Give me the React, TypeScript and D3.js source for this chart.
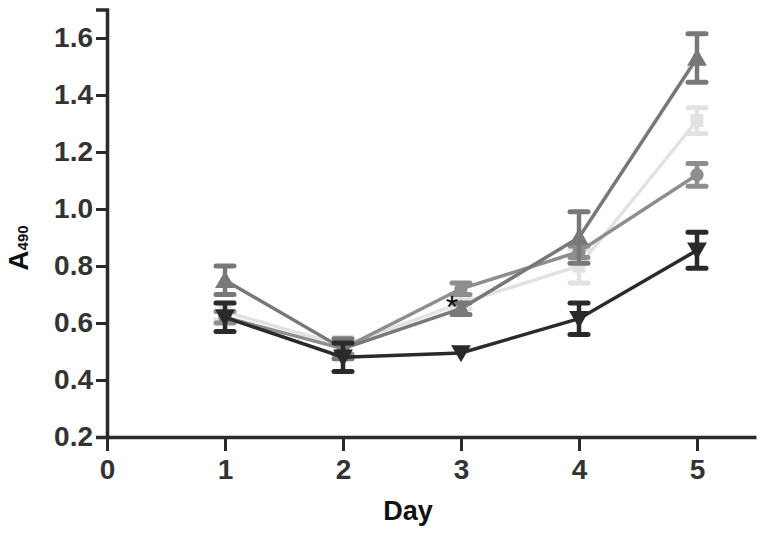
import React, { useEffect, useRef } from 'react';
import * as d3 from 'd3';

const days = [1, 2, 3, 4, 5];
const yTicks = [0.2, 0.4, 0.6, 0.8, 1.0, 1.2, 1.4, 1.6];
const xTicks = [0, 1, 2, 3, 4, 5];

// mean and sem per day
const lightMean = [0.64, 0.52, 0.67, 0.80, 1.31];
const lightErr = [0.03, 0.03, 0.02, 0.06, 0.045];
const circleMean = [0.62, 0.51, 0.72, 0.85, 1.12];
const circleErr = [0.02, 0.02, 0.02, 0.02, 0.04];
const triMean = [0.75, 0.51, 0.65, 0.90, 1.53];
const triErr = [0.05, 0.035, 0.02, 0.09, 0.085];
const darkMean = [0.62, 0.48, 0.495, 0.615, 0.855];
const darkErr = [0.05, 0.05, 0, 0.055, 0.063];

const series = [
  { name: 'light', mean: lightMean, err: lightErr, color: '#e2e2e2', symbol: d3.symbolSquare, rot: 0 },
  { name: 'circle', mean: circleMean, err: circleErr, color: '#8e8e8e', symbol: d3.symbolCircle, rot: 0 },
  { name: 'tri', mean: triMean, err: triErr, color: '#787878', symbol: d3.symbolTriangle, rot: 0 },
  { name: 'dark', mean: darkMean, err: darkErr, color: '#2a2a2a', symbol: d3.symbolTriangle, rot: 180 },
];

export default function App() {
  const svgRef = useRef(null);
  const width = 766, height = 537;

  useEffect(() => {
    const svg = d3.select(svgRef.current);
    svg.selectAll('*').remove();

    const x = d3.scaleLinear().domain([0, 5.5]).range([107, 756]);
    const y = d3.scaleLinear().domain([0.2, 1.7]).range([437, 9.5]);
    const axisColor = '#2a2a2a';
    const font = '"Liberation Sans", Arial, sans-serif';

    // y axis
    const ya = svg.append('g').attr('transform', 'translate(107,0)')
      .call(d3.axisLeft(y).tickValues(yTicks).tickFormat(d3.format('.1f')).tickSize(11).tickPadding(3));
    ya.select('.domain').attr('stroke', axisColor).attr('stroke-width', 3.5);
    ya.selectAll('.tick line').attr('stroke', axisColor).attr('stroke-width', 3);
    ya.selectAll('.tick text').attr('fill', '#333').attr('font-family', font)
      .attr('font-weight', 'bold').attr('font-size', 28);

    // x axis
    const xa = svg.append('g').attr('transform', 'translate(0,437)')
      .call(d3.axisBottom(x).tickValues(xTicks).tickFormat(d3.format('d')).tickSize(14).tickPadding(8).tickSizeOuter(0));
    xa.select('.domain').attr('stroke', axisColor).attr('stroke-width', 3.5);
    xa.selectAll('.tick line').attr('stroke', axisColor).attr('stroke-width', 3);
    xa.selectAll('.tick text').attr('fill', '#333').attr('font-family', font)
      .attr('font-weight', 'bold').attr('font-size', 28);

    // axis titles
    svg.append('text').attr('x', 408).attr('y', 520).attr('text-anchor', 'middle')
      .attr('font-family', font).attr('font-weight', 'bold').attr('font-size', 27).attr('fill', '#111')
      .text('Day');
    const yt = svg.append('text').attr('transform', 'translate(28,248) rotate(-90)')
      .attr('text-anchor', 'middle').attr('font-family', font).attr('font-weight', 'bold')
      .attr('font-size', 28).attr('fill', '#111');
    yt.append('tspan').text('A');
    yt.append('tspan').attr('font-size', 15).attr('dy', 0).text('490');

    const line = d3.line<number>().x((_, i) => x(days[i])).y(d => y(d));

    series.forEach(s => {
      const g = svg.append('g');
      g.append('path').datum(s.mean).attr('d', line).attr('fill', 'none')
        .attr('stroke', s.color).attr('stroke-width', 3.5);
      // error bars
      const eb = g.selectAll('.eb').data(days.map((d, i) => ({ d, m: s.mean[i], e: s.err[i] })))
        .join('g').filter(v => v.e > 0);
      eb.append('line').attr('x1', v => x(v.d)).attr('x2', v => x(v.d))
        .attr('y1', v => y(v.m - v.e)).attr('y2', v => y(v.m + v.e))
        .attr('stroke', s.color).attr('stroke-width', 4.5);
      [1, -1].forEach(sg => {
        eb.append('line').attr('x1', v => x(v.d) - 9).attr('x2', v => x(v.d) + 9)
          .attr('y1', v => y(v.m + sg * v.e)).attr('y2', v => y(v.m + sg * v.e))
          .attr('stroke', s.color).attr('stroke-width', 5).attr('stroke-linecap', 'round');
      });
      g.selectAll('.mk').data(s.mean).join('path')
        .attr('d', d3.symbol().type(s.symbol).size(s.symbol === d3.symbolCircle ? 140 : 170))
        .attr('transform', (d, i) => `translate(${x(days[i])},${y(d) + (s.rot ? -2 : s.symbol === d3.symbolTriangle ? 2 : 0)}) rotate(${s.rot})`)
        .attr('fill', s.color);
    });

    svg.append('text').attr('x', 452).attr('y', 318).attr('text-anchor', 'middle')
      .attr('font-family', font).attr('font-size', 32).attr('fill', '#111').text('*');
  }, []);

  return (
    <svg ref={svgRef} width={width} height={height}
      style={{ position: 'absolute', left: 0, top: 0, background: '#fff' }} />
  );
}
